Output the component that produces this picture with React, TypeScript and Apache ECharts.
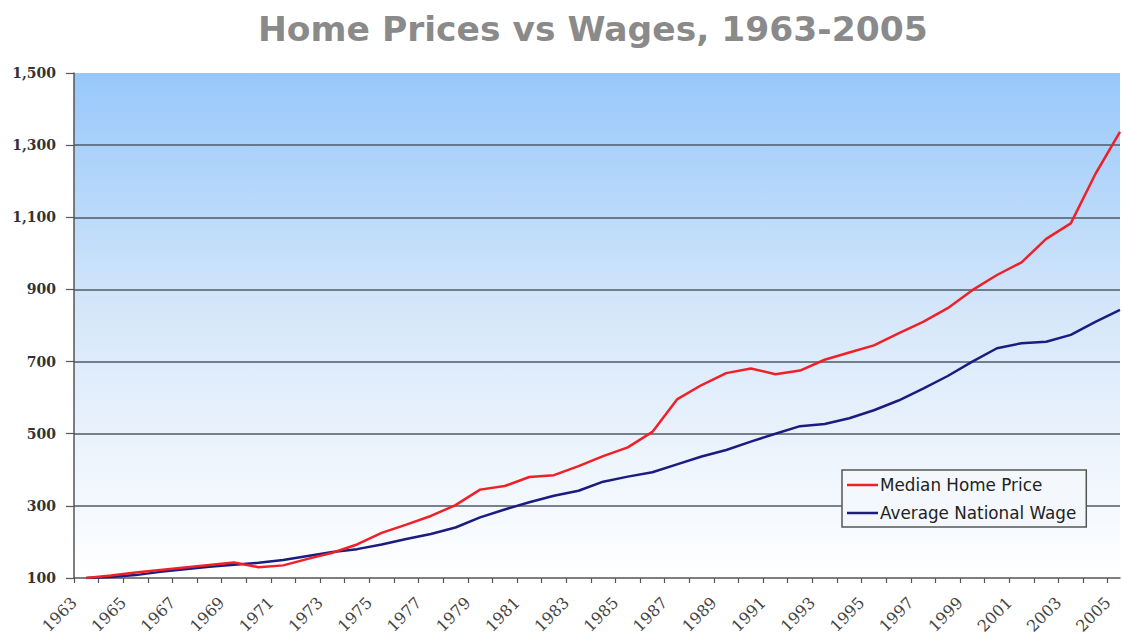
import React, { useEffect, useRef } from "react";
import * as echarts from "echarts";

const years: number[] = [
  1963, 1964, 1965, 1966, 1967, 1968, 1969, 1970, 1971, 1972, 1973, 1974, 1975,
  1976, 1977, 1978, 1979, 1980, 1981, 1982, 1983, 1984, 1985, 1986, 1987, 1988,
  1989, 1990, 1991, 1992, 1993, 1994, 1995, 1996, 1997, 1998, 1999, 2000, 2001,
  2002, 2003, 2004, 2005,
];

const medianHomePrice: number[] = [
  100, 107, 115, 122, 129, 136, 143, 130, 135, 153, 170, 193, 225,
  248, 272, 302, 345, 355, 380, 385, 410, 438, 462, 505, 595, 635,
  668, 681, 665, 675, 705, 725, 745, 778, 810, 848, 898, 940, 975,
  1040, 1083, 1220, 1337,
];

const averageNationalWage: number[] = [
  100, 103, 108, 117, 124, 131, 137, 142, 150, 161, 172, 180, 193,
  208, 222, 240, 268, 290, 310, 328, 342, 367, 381, 393, 415, 437,
  455, 478, 500, 521, 527, 543, 565, 592, 625, 660, 700, 737, 751,
  755, 774, 810, 843,
];

const xTickLabels: string[] = [
  "1963", "1965", "1967", "1969", "1971", "1973", "1975", "1977", "1979",
  "1981", "1983", "1985", "1987", "1989", "1991", "1993", "1995", "1997",
  "1999", "2001", "2003", "2005",
];

const yTicks: number[] = [100, 300, 500, 700, 900, 1100, 1300, 1500];

export default function App() {
  const ref = useRef<HTMLDivElement>(null);

  useEffect(() => {
    document.body.style.margin = "0";
    const chart = echarts.init(ref.current!, null, { renderer: "svg" });
    const priceData = years.map((y, i) => [y + 0.5, medianHomePrice[i]]);
    const wageData = years.map((y, i) => [y + 0.5, averageNationalWage[i]]);
    chart.setOption({
      animation: false,
      backgroundColor: "#ffffff",
      title: {
        text: "Home Prices vs Wages, 1963-2005",
        left: 253,
        top: 6,
        textStyle: {
          fontFamily: "DejaVu Sans",
          fontWeight: "bold",
          fontSize: 34.5,
          color: "#8a8a8a",
        },
      },
      legend: {
        orient: "vertical",
        left: 842,
        top: 470,
        icon: "rect",
        itemWidth: 31,
        itemHeight: 2.5,
        itemGap: 8,
        padding: [5, 10, 4, 5],
        backgroundColor: "#f4f8fd",
        borderColor: "#555555",
        borderWidth: 1.5,
        textStyle: {
          fontFamily: "DejaVu Sans",
          fontSize: 16.8,
          lineHeight: 20,
          color: "#222222",
          padding: [0, 0, 0, -3],
        },
        data: ["Median Home Price", "Average National Wage"],
      },
      grid: {
        left: 74,
        right: 3,
        top: 73,
        bottom: 59,
        show: true,
        borderWidth: 0,
        backgroundColor: new echarts.graphic.LinearGradient(0, 0, 0, 1, [
          { offset: 0, color: "#97c8fa" },
          { offset: 0.5, color: "#d8e8fa" },
          { offset: 1, color: "#ffffff" },
        ]),
      },
      xAxis: {
        type: "value",
        min: 1963,
        max: 2005.5,
        axisLine: { show: true, onZero: false, lineStyle: { color: "#555555", width: 1.5 } },
        axisTick: {
          show: true,
          length: 5,
          customValues: years,
          lineStyle: { color: "#555555", width: 1.2 },
        },
        axisLabel: {
          rotate: 45,
          margin: 22,
          customValues: xTickLabels.map((s) => Number(s)),
          formatter: (v: number) => String(v),
          fontFamily: "DejaVu Serif",
          fontSize: 16,
          color: "#444444",
        },
        splitLine: { show: false },
      },
      yAxis: {
        type: "value",
        min: yTicks[0],
        max: yTicks[yTicks.length - 1],
        interval: 200,
        axisLine: { show: true, lineStyle: { color: "#555555", width: 1.5 } },
        axisTick: { show: true, length: 8, lineStyle: { color: "#555555", width: 1.2 } },
        axisLabel: {
          margin: 18,
          fontFamily: "DejaVu Serif",
          fontWeight: "bold",
          fontSize: 14,
          color: "#333333",
          formatter: (v: number) => v.toLocaleString("en-US"),
        },
        splitLine: {
          show: true,
          showMinLine: false,
          showMaxLine: false,
          lineStyle: { color: "#4f5a66", width: 1.6 },
        },
      },
      series: [
        {
          name: "Median Home Price",
          type: "line",
          data: priceData,
          symbol: "none",
          lineStyle: { color: "#f02028", width: 2.5 },
          itemStyle: { color: "#f02028" },
          z: 3,
        },
        {
          name: "Average National Wage",
          type: "line",
          data: wageData,
          symbol: "none",
          lineStyle: { color: "#1c1c80", width: 2.5 },
          itemStyle: { color: "#1c1c80" },
          z: 2,
        },
      ],
    });
    return () => chart.dispose();
  }, []);

  return <div ref={ref} style={{ width: 1123, height: 637 }} />;
}
